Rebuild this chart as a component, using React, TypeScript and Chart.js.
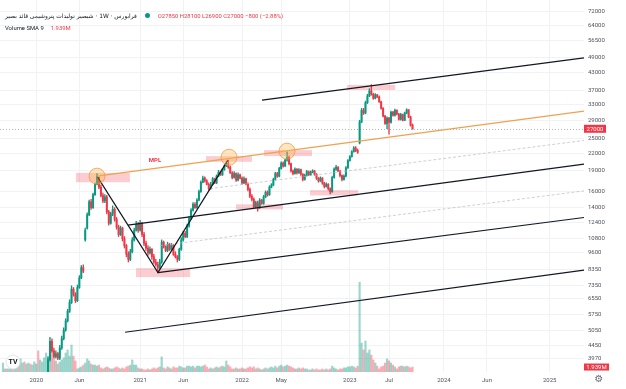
import React, { useEffect, useRef } from 'react';
import { Chart, registerables } from 'chart.js';

Chart.register(...registerables);

// ---- weekly candles (index 0 = first week, ~Sep 2019) ----
const opens = [
  1880,1900,1950,1920,2000,2080,2050,2150,2230,2200,
  2300,2380,2350,2450,2550,2500,2620,2750,2900,2850,
  3000,3150,3300,3450,3950,4600,4250,4050,4150,4000,
  4350,4700,5050,5450,5900,6350,7100,6800,6450,7200,
  7800,8500,10700,11800,13200,14700,14000,15600,17000,18000,
  16600,15500,14800,15300,13500,12300,13300,13800,12700,11900,
  11200,11800,10800,10200,9500,9100,9700,10700,11600,12200,
  11600,12300,11200,10400,10000,9600,9900,9300,8900,8700,
  8500,8900,10500,10100,9800,10300,9900,10200,9500,9300,
  9100,9900,10700,11300,11000,12000,12800,13700,14400,14000,
  14900,16000,17300,17900,17500,17000,16400,17000,17800,17200,
  18200,18800,18400,19200,19800,20200,19600,18700,18000,18600,
  17600,18400,17900,17200,17800,17000,16300,15400,15000,14100,
  14600,14000,14900,14500,15300,15900,15600,16600,16900,17700,
  18600,18200,19400,20300,19800,20800,21300,20200,19000,18600,
  19300,18700,19200,18500,17700,18300,18900,18400,18800,19000,
  18500,17900,17500,17900,17200,16700,17000,16400,16000,18000,
  19300,19600,19000,18300,17700,18200,19500,20700,21400,22300,
  23000,22500,24000,28600,31500,30800,33600,35500,37000,36000,
  34800,35800,35200,33800,32000,30000,28200,29500,28500,31000,
  30200,31500,30500,29200,30400,29000,30800,31600,29800,27850,
];
const highs = [
  1960,1990,1990,2050,2120,2110,2190,2280,2270,2340,
  2430,2420,2490,2600,2590,2670,2800,2960,2950,3060,
  3210,3360,3520,4050,4750,4700,4350,4250,4200,4450,
  4800,5150,5550,6000,6500,7300,7200,6900,7350,7950,
  8650,8700,11800,13400,14900,15000,15800,17200,18600,18100,
  16900,15800,15600,15500,13700,13500,14200,14000,12900,12100,
  12000,11900,11000,10300,9700,9900,10900,11800,12500,12400,
  12600,12400,11400,10600,10200,10100,9950,9500,9100,8900,
  9100,10700,10600,10200,10500,10400,10400,10300,9700,9400,
  10000,10900,11500,11500,12200,13000,13900,14600,14600,15100,
  16200,17500,18200,18100,17700,17200,17300,18000,17900,18400,
  19100,19000,19400,20000,20500,20800,19800,18900,18900,18700,
  18700,18500,18100,18100,17900,17200,16500,15600,15200,14800,
  14800,15100,15000,15500,16100,16100,16800,17100,17900,18800,
  18800,19600,20500,20500,21000,22300,21500,20300,19200,19500,
  19400,19400,19300,18600,18500,19100,19000,19000,19200,19100,
  18600,18000,18100,18000,17300,17200,17100,16500,18200,19500,
  19900,19700,19100,18400,18400,19700,20900,21600,22500,23300,
  23300,22800,29000,32000,32000,34000,36000,37700,39000,36300,
  36200,36000,35500,34000,32200,30200,29800,29700,31300,31200,
  31800,31600,30700,30700,30500,31000,31900,31700,30000,28100,
];
const lows = [
  1840,1870,1880,1900,1970,2010,2030,2120,2170,2180,
  2270,2320,2330,2420,2470,2480,2600,2720,2830,2830,
  2970,3120,3270,3420,3900,4200,4000,4000,3950,3950,
  4300,4650,5000,5400,5850,6300,6700,6350,6400,7150,
  7750,8150,10600,11700,13100,13800,13900,15500,16900,16400,
  15300,14600,14600,13300,12100,12200,13100,12500,11700,11000,
  11100,10600,10000,9300,8900,9000,9600,10600,11500,11400,
  11500,11000,10200,9800,9400,9500,9100,8800,8600,8150,
  8400,8800,10000,9700,9700,9800,9800,9400,9200,8900,
  9000,9800,10600,10900,10900,11900,12700,13600,13900,13900,
  14800,15900,17200,17300,16900,16200,16300,16900,17100,17100,
  18100,18300,18300,19100,19700,19400,18600,17800,17900,17400,
  17500,17800,17000,17100,16900,16100,15200,14800,13900,14000,
  13600,13900,14400,14400,15200,15400,15500,16500,16800,17600,
  18000,18100,19300,19600,19700,20600,20000,18800,18400,18500,
  18500,18600,18300,17500,17600,18200,18300,18300,18700,18300,
  17700,17300,17400,17000,16500,16600,16200,15700,15900,17900,
  19100,18900,18100,17500,17600,18100,19400,20600,21300,22200,
  22300,22000,23800,28400,30400,30600,33300,35300,35700,34500,
  34600,35000,33600,31800,29800,28000,27000,25800,28300,30000,
  30000,30300,29000,29000,28800,28900,30600,29600,27600,26900,
];
const closes = [
  1900,1950,1920,2000,2080,2050,2150,2230,2200,2300,
  2380,2350,2450,2550,2500,2620,2750,2900,2850,3000,
  3150,3300,3450,3950,4600,4250,4050,4150,4000,4350,
  4700,5050,5450,5900,6350,7100,6800,6450,7200,7800,
  8500,8250,11600,13200,14700,14000,15600,17000,18000,16600,
  15500,14800,15300,13500,12300,13300,13800,12700,11900,11200,
  11800,10800,10200,9500,9100,9700,10700,11600,12200,11600,
  12300,11200,10400,10000,9600,9900,9300,8900,8700,8500,
  8900,10500,10100,9800,10300,9900,10200,9500,9300,9100,
  9900,10700,11300,11000,12000,12800,13700,14400,14000,14900,
  16000,17300,17900,17500,17000,16400,17000,17800,17200,18200,
  18800,18400,19200,19800,20200,19600,18700,18000,18600,17600,
  18400,17900,17200,17800,17000,16300,15400,15000,14100,14600,
  14000,14900,14500,15300,15900,15600,16600,16900,17700,18600,
  18200,19400,20300,19800,20800,21300,20200,19000,18600,19300,
  18700,19200,18500,17700,18300,18900,18400,18800,19000,18500,
  17900,17500,17900,17200,16700,17000,16400,16000,18000,19300,
  19600,19000,18300,17700,18200,19500,20700,21400,22300,23000,
  22500,22200,28600,31500,30800,33600,35500,37000,36000,34800,
  35800,35200,33800,32000,30000,28200,29500,28500,31000,30200,
  31500,30500,29200,30400,29000,30800,31600,29800,27800,27000,
];
// weekly volume, millions of shares
const volumes = [
  3.5,1.2,1.2,1.2,1.2,2.7,3.9,3.1,3.1,5.1,
  3.5,3.9,3.1,3.5,3.1,2.7,3.9,3.1,8.2,4.7,
  3.9,5.5,7.4,5.5,7.0,10.1,5.1,4.3,3.1,3.9,
  4.7,5.5,7.4,8.6,6.2,10.5,6.2,4.3,1.2,1.6,
  2.0,2.7,3.5,5.1,4.3,3.1,2.7,2.7,2.3,2.7,
  1.6,1.2,1.6,2.0,1.6,1.2,1.2,1.6,2.0,1.6,
  1.2,1.6,1.2,2.0,2.3,2.7,4.7,2.7,2.7,1.6,
  1.2,1.2,0.8,0.8,1.2,0.8,1.2,1.6,1.2,1.6,
  2.0,5.9,1.6,1.2,2.0,1.6,1.2,2.0,1.6,1.6,
  2.3,2.0,1.6,1.6,2.3,2.3,2.0,2.3,1.6,2.3,
  2.3,2.0,2.3,2.7,2.0,1.2,1.6,1.2,1.6,2.0,
  1.6,2.0,2.3,2.0,4.3,2.7,2.0,1.2,1.2,1.6,
  1.2,1.2,1.6,1.2,1.2,1.6,2.0,1.6,2.0,1.2,
  1.6,1.2,0.8,1.2,1.6,1.2,1.6,2.0,1.6,2.3,
  1.6,2.3,2.7,2.0,2.3,2.7,2.3,2.0,1.6,1.2,
  1.2,1.6,1.2,1.6,1.2,1.2,0.8,0.8,1.2,0.8,
  1.2,0.8,0.8,1.2,0.8,1.2,0.8,1.2,2.3,1.6,
  1.2,0.8,1.2,1.2,1.6,1.6,2.0,2.0,2.3,2.0,
  1.6,2.3,35.0,11.3,8.6,12.1,7.4,8.6,6.6,4.7,
  3.5,2.3,1.2,2.0,2.3,3.5,5.1,4.3,3.5,2.7,
  2.0,1.2,2.0,2.3,2.3,2.0,2.3,2.0,1.6,1.9,
];
const volumeSma9 = 1.939;

// ---- axes ----
const xTickIdx = [17, 39, 70, 92, 122, 142, 177, 197, 225, 247, 279];
const xTickLabels = ['2020', 'Jun', '2021', 'Jun', '2022', 'May', '2023', 'Jul', '2024', 'Jun', '2025'];
const priceTicks = [72000, 64000, 56500, 49000, 43000, 37000, 33000, 29000, 25000, 22000, 19000, 16000, 14000, 12400, 10800, 9600, 8350, 7350, 6550, 5750, 5050, 4450, 3970];

// ---- drawings, in [week index, price] ----
const lineTop = [[132.2, 34300], [296.5, 48700]];
const lineMPL = [[48.0, 18200], [296.5, 31300]];
const lineMidUpper = [[105.7, 16400], [296.5, 24500]];
const lineMid = [[63.8, 12100], [296.5, 20100]];
const lineMidLower = [[80.1, 10200], [296.5, 16100]];
const lineLow = [[79.1, 8150], [296.5, 12900]];
const lineBottom = [[62.3, 4960], [296.5, 8320]];
const zigzag = [[48.0, 18200], [79.1, 8150], [114.8, 20800]];
const circles = [[48.0, 18200], [115.4, 21300], [144.95, 22400]];
// [fromIndex, toIndex, topPrice, bottomPrice]
const zones = [
  [37.3, 64.8, 18700, 17300],
  [67.9, 95.5, 8460, 7850],
  [103.6, 127.1, 21500, 20500],
  [133.2, 157.7, 22600, 21500],
  [118.9, 142.9, 14400, 13800],
  [156.7, 181.2, 16200, 15500],
  [175.6, 200.1, 38900, 37300],
];
const mplLabel = [77.6, 20800];

const X_MIN = -1.5;
const X_MAX = 296.5;
const PRICE_MIN = 3562;
const PRICE_MAX = 78910;
const VOL_MAX = 145;

const UP = '#089981';
const DOWN = '#f23645';
const AXIS_TEXT = '#50535e';
const FONT = 'Roboto, "DejaVu Sans", sans-serif';

const title = 'فرابورس · 1W · شبصیر تولیدات پتروشیمی قائد بصیر';

const zeroPad = (s: any) => {
  s.paddingTop = 0;
  s.paddingBottom = 0;
  s.paddingLeft = 0;
  s.paddingRight = 0;
};

const overlayPlugin = {
  id: 'overlay',
  beforeDatasetsDraw(chart: any) {
    const { ctx, chartArea, scales } = chart;
    const x = scales.x, y = scales.y;
    ctx.save();
    ctx.beginPath();
    ctx.rect(chartArea.left, chartArea.top, chartArea.right - chartArea.left, chartArea.bottom - chartArea.top);
    ctx.clip();
    ctx.fillStyle = 'rgba(242,54,69,0.25)';
    zones.forEach(([a, b, hi, lo]) => {
      const x0 = x.getPixelForValue(a), x1 = x.getPixelForValue(b);
      const y0 = y.getPixelForValue(hi), y1 = y.getPixelForValue(lo);
      ctx.fillRect(x0, y0, x1 - x0, y1 - y0);
    });
    const lp = Math.round(y.getPixelForValue(closes[closes.length - 1])) + 0.5;
    ctx.strokeStyle = '#b2b5be';
    ctx.lineWidth = 1;
    ctx.setLineDash([1, 2]);
    ctx.beginPath();
    ctx.moveTo(chartArea.left, lp);
    ctx.lineTo(chartArea.right, lp);
    ctx.stroke();
    ctx.restore();
  },
  afterDraw(chart: any) {
    const { ctx, chartArea, scales } = chart;
    const x = scales.x, y = scales.y, yv = scales.yv;
    ctx.save();
    // MPL label
    ctx.fillStyle = '#f23645';
    ctx.font = `bold 6px ${FONT}`;
    ctx.textAlign = 'center';
    ctx.textBaseline = 'middle';
    ctx.fillText('MPL', x.getPixelForValue(mplLabel[0]), y.getPixelForValue(mplLabel[1]));
    // last price label
    const last = closes[closes.length - 1];
    const py = y.getPixelForValue(last);
    ctx.fillStyle = DOWN;
    ctx.fillRect(chartArea.right, py - 4, 22, 8);
    ctx.fillStyle = '#ffffff';
    ctx.font = `6px ${FONT}`;
    ctx.textAlign = 'center';
    ctx.fillText(String(last), chartArea.right + 11, py + 0.5);
    // volume sma label
    const vy = yv.getPixelForValue(volumeSma9);
    ctx.fillStyle = DOWN;
    ctx.fillRect(chartArea.right, vy - 3.5, 25, 7);
    ctx.fillStyle = '#ffffff';
    ctx.fillText(volumeSma9.toFixed(3) + 'M', chartArea.right + 12.5, vy + 0.5);
    // TradingView logo
    ctx.beginPath();
    ctx.arc(13, 362, 7, 0, Math.PI * 2);
    ctx.fillStyle = '#ffffff';
    ctx.fill();
    ctx.strokeStyle = '#e0e3eb';
    ctx.lineWidth = 1;
    ctx.stroke();
    ctx.fillStyle = '#131722';
    ctx.font = `bold 7px ${FONT}`;
    ctx.fillText('TV', 13, 362.5);
    // settings gear
    ctx.fillStyle = '#6a6d78';
    ctx.font = `10px "DejaVu Sans", sans-serif`;
    ctx.fillText('⚙', 599, 379);
    ctx.restore();
  },
};

export default function App() {
  const ref = useRef<HTMLCanvasElement>(null);

  useEffect(() => {
    const canvas = ref.current;
    if (!canvas) return;
    const idx = closes.map((_, i) => i);
    const isUp = closes.map((c, i) => c >= opens[i]);
    const candleColors = isUp.map((u) => (u ? UP : DOWN));
    const volColors = isUp.map((u) => (u ? 'rgba(8,153,129,0.4)' : 'rgba(242,54,69,0.4)'));
    const pts = (arr: number[][]) => arr.map(([a, b]) => ({ x: a, y: b }));
    const lineDs = (arr: number[][], color: string, width: number, dash: number[], order: number) => ({
      type: 'line',
      data: pts(arr),
      borderColor: color,
      borderWidth: width,
      borderDash: dash,
      pointRadius: 0,
      fill: false,
      tension: 0,
      order,
      xAxisID: 'x',
      yAxisID: 'y',
    });

    const chart = new Chart(canvas, {
      type: 'bar',
      data: {
        datasets: [
          {
            type: 'bar',
            data: idx.map((i) => ({ x: i, y: volumes[i] })),
            yAxisID: 'yv',
            backgroundColor: volColors,
            barThickness: 1.5,
            grouped: false,
            order: 10,
          },
          {
            type: 'bar',
            data: idx.map((i) => ({ x: i, y: [lows[i], highs[i]] })),
            yAxisID: 'y',
            backgroundColor: candleColors,
            barThickness: 0.7,
            grouped: false,
            order: 6,
          },
          {
            type: 'bar',
            data: idx.map((i) => ({ x: i, y: [opens[i], closes[i]] })),
            yAxisID: 'y',
            backgroundColor: candleColors,
            barThickness: 1.3,
            minBarLength: 1,
            grouped: false,
            order: 5,
          },
          lineDs(lineMidUpper, '#b8bbc4', 0.7, [3, 2], 4),
          lineDs(lineMidLower, '#b8bbc4', 0.7, [3, 2], 4),
          lineDs(lineTop, '#131722', 1.2, [], 3),
          lineDs(lineMid, '#131722', 1.2, [], 3),
          lineDs(lineLow, '#131722', 1.2, [], 3),
          lineDs(lineBottom, '#131722', 1.2, [], 3),
          lineDs(zigzag, '#131722', 1.2, [], 3),
          lineDs(lineMPL, '#eea24e', 1.2, [], 2),
          {
            type: 'line',
            data: pts(circles),
            showLine: false,
            pointRadius: 8,
            pointBackgroundColor: 'rgba(255,183,77,0.35)',
            pointBorderColor: 'rgba(240,150,70,0.75)',
            pointBorderWidth: 1,
            order: 1,
            xAxisID: 'x',
            yAxisID: 'y',
          },
        ] as any,
      },
      options: {
        animation: false,
        responsive: true,
        maintainAspectRatio: false,
        devicePixelRatio: 1,
        events: [],
        layout: { padding: 0, autoPadding: false },
        plugins: { legend: { display: false }, tooltip: { enabled: false } },
        scales: {
          x: {
            type: 'linear',
            min: X_MIN,
            max: X_MAX,
            offset: false,
            grid: { color: '#f0f2f6', drawTicks: false, offset: false },
            border: { display: false },
            afterBuildTicks: (s: any) => {
              s.ticks = xTickIdx.map((v) => ({ value: v }));
            },
            afterFit: (s: any) => {
              s.height = 17;
              zeroPad(s);
            },
            ticks: {
              autoSkip: false,
              maxRotation: 0,
              padding: 5,
              color: AXIS_TEXT,
              font: { size: 6, family: FONT },
              callback: (v: any) => {
                const k = xTickIdx.indexOf(Number(v));
                return k >= 0 ? xTickLabels[k] : '';
              },
            },
          },
          y: {
            type: 'logarithmic',
            position: 'right',
            min: PRICE_MIN,
            max: PRICE_MAX,
            grid: { color: '#f0f2f6', drawTicks: false },
            border: { display: false },
            afterBuildTicks: (s: any) => {
              s.ticks = priceTicks.map((v) => ({ value: v }));
            },
            afterFit: (s: any) => {
              s.width = 42;
              zeroPad(s);
            },
            ticks: {
              padding: 4,
              color: AXIS_TEXT,
              font: { size: 6, family: FONT },
              callback: (v: any) => String(v),
            },
          },
          yv: { type: 'linear', display: false, min: 0, max: VOL_MAX },
        },
      } as any,
      plugins: [overlayPlugin],
    });
    return () => chart.destroy();
  }, []);

  const n = closes.length;
  const change = closes[n - 1] - closes[n - 2];
  const pct = (change / closes[n - 2]) * 100;
  const fmt = (v: number) => (v < 0 ? '−' + Math.abs(v) : String(v));
  const ohlc = `O${opens[n - 1]} H${highs[n - 1]} L${lows[n - 1]} C${closes[n - 1]} ${fmt(change)} (${pct < 0 ? '−' : ''}${Math.abs(pct).toFixed(2)}%)`;

  return (
    <div style={{ position: 'fixed', left: 0, top: 0, width: 626, height: 389, background: '#ffffff', overflow: 'hidden' }}>
      <div style={{ position: 'absolute', left: 0, top: 0, width: 626, height: 389 }}>
        <canvas ref={ref} />
      </div>
      <div
        style={{
          position: 'absolute',
          left: 5,
          top: 11,
          height: 9,
          display: 'flex',
          alignItems: 'center',
          whiteSpace: 'nowrap',
          fontFamily: FONT,
          fontSize: 5.9,
          color: '#131722',
        }}
      >
        <span dir="rtl" style={{ fontFamily: '"DejaVu Sans", sans-serif', fontSize: 5.9, unicodeBidi: 'isolate' }}>{title}</span>
        <span style={{ display: 'inline-block', width: 5, height: 5, borderRadius: '50%', background: UP, margin: '0 8px 0 8px' }} />
        <span style={{ color: DOWN }}>{ohlc}</span>
      </div>
      <div
        style={{
          position: 'absolute',
          left: 5,
          top: 23,
          height: 9,
          display: 'flex',
          alignItems: 'center',
          whiteSpace: 'nowrap',
          fontFamily: FONT,
          fontSize: 5.9,
          color: '#131722',
        }}
      >
        <span>Volume SMA 9</span>
        <span style={{ color: DOWN, marginLeft: 7 }}>{volumeSma9.toFixed(3)}M</span>
      </div>
    </div>
  );
}
